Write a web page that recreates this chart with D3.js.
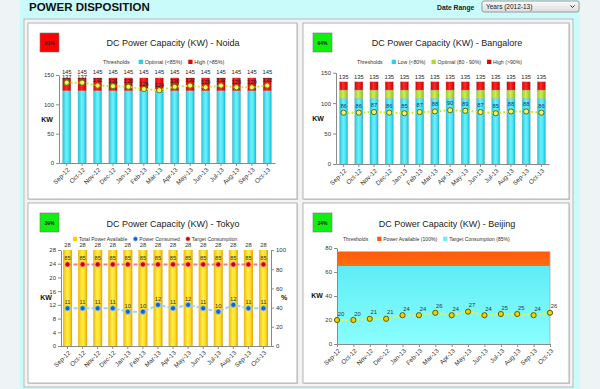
<!DOCTYPE html>
<html><head><meta charset="utf-8">
<script src="https://cdn.jsdelivr.net/npm/d3@7"></script>
<style>
body{margin:0;background:#eef3f6;}
svg{display:block;font-family:"Liberation Sans",Arial,sans-serif;}
</style></head>
<body><svg id="c" width="600" height="389"></svg>
<script>
// ---------- DATA ----------
const months = ["Sep-12","Oct-12","Nov-12","Dec-12","Jan-13","Feb-13","Mar-13","Apr-13","May-13","Jun-13","Jul-13","Aug-13","Sep-13","Oct-13"];
const badges = ["91%","64%","39%","34%"];

// Noida
const noidaOptimal = [123,123,123,123,123,123,123,123,123,123,123,123,123,123];
const noidaHigh    = [22,22,22,22,22,22,22,22,22,22,22,22,22,22];
const noidaCapacity= [145,145,145,145,145,145,145,145,145,145,145,145,145,145];
const noidaUsed    = [137,137,132,131,130,126,124,130,132,129,132,129,129,132];
const noidaTicks   = [0,50,100,150];

// Bangalore
const blrLow      = [108,108,108,108,108,108,108,108,108,108,108,108,108,108];
const blrOptimal  = [13.5,13.5,13.5,13.5,13.5,13.5,13.5,13.5,13.5,13.5,13.5,13.5,13.5,13.5];
const blrHigh     = [13.5,13.5,13.5,13.5,13.5,13.5,13.5,13.5,13.5,13.5,13.5,13.5,13.5,13.5];
const blrCapacity = [135,135,135,135,135,135,135,135,135,135,135,135,135,135];
const blrUsed     = [86,86,87,86,85,87,88,90,89,87,85,88,88,86];
const blrTicks    = [0,50,100,150];

// Tokyo
const tokyoTotal   = [28,28,28,28,28,28,28,28,28,28,28,28,28,28];
const tokyoUsed    = [11,11,11,11,10,10,12,11,12,11,10,12,11,11];
const tokyoTarget  = [85,85,85,85,85,85,85,85,85,85,85,85,85,85];
const tokyoTicksKW = [0,4,8,12,16,20,24,28];
const tokyoTicksPct= [0,20,40,60,80,100];

// Beijing
const bjAvailable = [77,77,77,77,77,77,77,77,77,77,77,77,77,77];
const bjTarget    = [65,65,65,65,65,65,65,65,65,65,65,65,65,65];
const bjUsed      = [20,20,21,21,24,24,26,24,27,24,25,25,24,26];
const bjTicks     = [0,20,40,60,80];

// ---------- SETUP ----------
const svg = d3.select("#c");
const defs = svg.append("defs");
function hGrad(id, stops){
  const g = defs.append("linearGradient").attr("id",id).attr("x1","0").attr("x2","1").attr("y1","0").attr("y2","0");
  stops.forEach(s=>g.append("stop").attr("offset",s[0]).attr("stop-color",s[1]));
}
function vGrad(id, stops){
  const g = defs.append("linearGradient").attr("id",id).attr("x1","0").attr("x2","0").attr("y1","0").attr("y2","1");
  stops.forEach(s=>g.append("stop").attr("offset",s[0]).attr("stop-color",s[1]));
}
hGrad("gCyan",[["0","#1fc6de"],["0.45","#6ff0fb"],["0.7","#4fe6f6"],["1","#17b9d4"]]);
hGrad("gRed",[["0","#d80000"],["0.45","#ff2a2a"],["1","#c80000"]]);
hGrad("gGreen",[["0","#9fd01c"],["0.45","#cdee55"],["1","#93c212"]]);
hGrad("gGold",[["0","#f2b800"],["0.45","#fff04a"],["0.75","#ffd820"],["1","#e0a000"]]);
vGrad("gBjCyan",[["0","#5eecf6"],["1","#8afeff"]]);
vGrad("gBjOrange",[["0","#ff5a08"],["1","#ff6d12"]]);
vGrad("gSel",[["0","#fbfbfb"],["1","#dcdcdc"]]);

// background
svg.append("rect").attr("x",20).attr("y",0).attr("width",560).attr("height",389).attr("fill","#c9fbfb");
svg.append("rect").attr("x",24).attr("y",19).attr("width",549).attr("height",368).attr("fill","#f3f3f3").attr("stroke","#b9b9b9");

// header
svg.append("text").attr("x",29).attr("y",11).attr("font-size","11.5px").attr("font-weight","bold").attr("fill","#111").text("POWER DISPOSITION");
svg.append("text").attr("x",437).attr("y",9.5).attr("font-size","6.8px").attr("font-weight","bold").attr("fill","#222").text("Date Range");
svg.append("rect").attr("x",482).attr("y",1).attr("width",97).attr("height",11).attr("rx",2).attr("fill","url(#gSel)").attr("stroke","#9a9a9a");
svg.append("text").attr("x",486).attr("y",9.2).attr("font-size","6.5px").attr("fill","#222").text("Years (2012-13)");
svg.append("path").attr("d","M570.5,5.5 L572.5,7.5 L574.5,5.5").attr("fill","none").attr("stroke","#333").attr("stroke-width",1);

// panels
function panel(x,y,w,h){
  svg.append("rect").attr("x",x+1).attr("y",y+1).attr("width",w).attr("height",h).attr("fill","#cfcfcf");
  svg.append("rect").attr("x",x).attr("y",y).attr("width",w).attr("height",h).attr("fill","#fff").attr("stroke","#b3b3b3");
}
panel(28,23,269,176);
panel(303,23,266,176);
panel(28,203,269,180);
panel(303,203,266,180);

function badge(x,y,txt,color){
  svg.append("rect").attr("x",x).attr("y",y).attr("width",19).attr("height",19).attr("fill",color).attr("stroke","#777").attr("stroke-width",0.6);
  svg.append("text").attr("x",x+9.5).attr("y",y+11.5).attr("text-anchor","middle").attr("font-size","5px").attr("font-weight","bold").attr("fill","#222").text(txt);
}
badge(40,33,badges[0],"#ff0000");
badge(313,33,badges[1],"#11ee11");
badge(40,213,badges[2],"#11ee11");
badge(313,213,badges[3],"#11ee11");

function title(cx,y,t){
  svg.append("text").attr("x",cx).attr("y",y).attr("text-anchor","middle").attr("font-size","9px").attr("fill","#222").text(t);
}
title(173,46,"DC Power Capacity (KW) - Noida");
title(447,46,"DC Power Capacity (KW) - Bangalore");
title(173,227,"DC Power Capacity (KW) - Tokyo");
title(447,227,"DC Power Capacity (KW) - Beijing");

// sequential legend layout
function legend(x0,y,items,fs){
  let x = x0;
  items.forEach(it=>{
    if(it.type==="sq"){
      svg.append("rect").attr("x",x).attr("y",y-4.3).attr("width",4.3).attr("height",4.3).attr("fill",it.color);
      x += 6;
    } else if(it.type==="dot"){
      svg.append("circle").attr("cx",x+2.1).attr("cy",y-2.1).attr("r",2.2).attr("fill",it.color).attr("stroke",it.stroke).attr("stroke-width",0.6);
      x += 6;
    }
    const t = svg.append("text").attr("x",x).attr("y",y).attr("font-size",fs+"px").attr("fill","#333").text(it.text);
    x += t.node().getComputedTextLength() + (it.type ? 6 : 9);
  });
}
legend(103,64,[{text:"Thresholds"},{type:"sq",color:"#22d4ec",text:"Optimal (<85%)"},{type:"sq",color:"#ee0000",text:"High (>85%)"}],5.4);
legend(357,64,[{text:"Thresholds"},{type:"sq",color:"#22d4ec",text:"Low (<80%)"},{type:"sq",color:"#aedd22",text:"Optimal (80 - 90%)"},{type:"sq",color:"#ee0000",text:"High (>90%)"}],5.2);
legend(73,241,[{type:"sq",color:"#ffd000",text:"Total Power Available"},{type:"dot",color:"#1166cc",stroke:"#88ccff",text:"Power Consumed"},{type:"dot",color:"#cc0000",stroke:"#ffaaaa",text:"Target Consumption"}],5.1);
legend(343,241,[{text:"Thresholds"},{type:"sq",color:"#ff5a08",text:"Power Available (100%)"},{type:"sq",color:"#66f0f8",text:"Target Consumption (85%)"}],5.1);

function kw(x,y,t){ svg.append("text").attr("x",x).attr("y",y).attr("text-anchor","middle").attr("font-size","7px").attr("font-weight","bold").attr("fill","#111").text(t||"KW"); }
kw(47,122); kw(318,121); kw(46,300); kw(317,298); kw(284,300,"%");

function styleAxis(g){
  g.select(".domain").attr("stroke","#8a8a8a");
  g.selectAll(".tick line").attr("stroke","#8a8a8a");
  g.selectAll("text").attr("fill","#333").style("font-size","6px").style("font-family","'Liberation Sans',Arial,sans-serif");
}
function leftAxis(scale,x,ticks){
  const g = svg.append("g").attr("transform",`translate(${x},0)`).call(d3.axisLeft(scale).tickValues(ticks).tickSize(3).tickPadding(2).tickSizeOuter(0));
  styleAxis(g); return g;
}
function rightAxis(scale,x,ticks){
  const g = svg.append("g").attr("transform",`translate(${x},0)`).call(d3.axisRight(scale).tickValues(ticks).tickSize(3).tickPadding(2).tickSizeOuter(0));
  styleAxis(g); return g;
}
function bottomAxis(scale,y){
  const g = svg.append("g").attr("transform",`translate(0,${y})`).call(d3.axisBottom(scale).tickSize(3).tickSizeOuter(0));
  styleAxis(g);
  g.selectAll("text").attr("x",0).attr("y",0).attr("dy","0.3em").attr("transform","translate(2,6) rotate(-45)").attr("text-anchor","end").style("font-size","6.3px");
  return g;
}
function valueLabels(data,xf,yf,fill,dx){
  svg.append("g").selectAll("text").data(data).join("text")
    .attr("x",(d,i)=>xf(i)+(dx||0)).attr("y",(d,i)=>yf(d,i)).attr("text-anchor","middle")
    .attr("font-size","5.8px").attr("fill",fill).text(d=>d);
}
function dottedLine(data,xf,y,color,dash,width){
  const line = d3.line().x((d,i)=>xf(i)).y(d=>y(d));
  svg.append("path").datum(data).attr("d",line).attr("fill","none").attr("stroke",color).attr("stroke-width",width||2).attr("stroke-dasharray",dash);
}
function markers(data,xf,y,fill,stroke){
  svg.append("g").selectAll("circle").data(data).join("circle")
    .attr("cx",(d,i)=>xf(i)).attr("cy",d=>y(d)).attr("r",2.6).attr("fill",fill).attr("stroke",stroke).attr("stroke-width",0.9);
}

// ---------- NOIDA ----------
{
  const x = d3.scaleBand().domain(months).range([59,275]).paddingInner(0.46).paddingOuter(0.23);
  const y = d3.scaleLinear().domain([0,150]).range([163,75]);
  const rows = months.map((m,i)=>({m, optimal:noidaOptimal[i], high:noidaHigh[i]}));
  const st = d3.stack().keys(["optimal","high"])(rows);
  const fills = {optimal:"url(#gCyan)", high:"url(#gRed)"};
  svg.append("g").selectAll("g").data(st).join("g").attr("fill",s=>fills[s.key])
    .selectAll("rect").data(s=>s).join("rect")
    .attr("x",d=>x(d.data.m)).attr("width",x.bandwidth()).attr("y",d=>y(d[1])).attr("height",d=>y(d[0])-y(d[1]))
    .attr("stroke","#9aa").attr("stroke-width",0.3);
  leftAxis(y,59,noidaTicks);
  bottomAxis(x,163);
  const cx = i=>x(months[i])+x.bandwidth()/2;
  valueLabels(noidaCapacity,cx,d=>y(d)-3.6,"#222");
  dottedLine(noidaUsed,cx,y,"#c8ee22","2,2",2);
  valueLabels(noidaUsed,cx,d=>y(d)-3.4,"#222");
  markers(noidaUsed,cx,y,"#eef566","#4d7a00");
}

// ---------- BANGALORE ----------
{
  const x = d3.scaleBand().domain(months).range([336,549]).paddingInner(0.46).paddingOuter(0.23);
  const y = d3.scaleLinear().domain([0,150]).range([164,72.7]);
  const rows = months.map((m,i)=>({m, low:blrLow[i], optimal:blrOptimal[i], high:blrHigh[i]}));
  const st = d3.stack().keys(["low","optimal","high"])(rows);
  const fills = {low:"url(#gCyan)", optimal:"url(#gGreen)", high:"url(#gRed)"};
  svg.append("g").selectAll("g").data(st).join("g").attr("fill",s=>fills[s.key])
    .selectAll("rect").data(s=>s).join("rect")
    .attr("x",d=>x(d.data.m)).attr("width",x.bandwidth()).attr("y",d=>y(d[1])).attr("height",d=>y(d[0])-y(d[1]))
    .attr("stroke","#9aa").attr("stroke-width",0.3);
  leftAxis(y,336,blrTicks);
  bottomAxis(x,164);
  const cx = i=>x(months[i])+x.bandwidth()/2;
  valueLabels(blrCapacity,cx,d=>y(d)-3,"#222");
  dottedLine(blrUsed,cx,d=>y(d)+1,"#c8ee22","2,2",2);
  valueLabels(blrUsed,cx,d=>y(d)-4,"#1a3a6a");
  markers(blrUsed,cx,d=>y(d)+1,"#eef566","#5a5a00");
}

// ---------- TOKYO ----------
{
  const x = d3.scaleBand().domain(months).range([60,271]).paddingInner(0.4).paddingOuter(0.2);
  const y = d3.scaleLinear().domain([0,28]).range([346,250]);
  const yp = d3.scaleLinear().domain([0,100]).range([346,250]);
  svg.append("g").selectAll("rect").data(tokyoTotal).join("rect")
    .attr("x",(d,i)=>x(months[i])).attr("width",x.bandwidth()).attr("y",d=>y(d)).attr("height",d=>y(0)-y(d))
    .attr("fill","url(#gGold)");
  leftAxis(y,61,tokyoTicksKW);
  rightAxis(yp,271,tokyoTicksPct);
  bottomAxis(x,346);
  const cx = i=>x(months[i])+x.bandwidth()/2;
  valueLabels(tokyoTotal,cx,d=>y(d)-3,"#333");
  dottedLine(tokyoTarget,cx,yp,"#d48a8a","4,2",2);
  valueLabels(tokyoTarget,cx,d=>yp(d)-4,"#333");
  markers(tokyoTarget,cx,yp,"#cc0000","#ff9c9c");
  dottedLine(tokyoUsed,cx,y,"#9fd2ef","4,2",2);
  valueLabels(tokyoUsed,cx,d=>y(d)-4,"#333");
  markers(tokyoUsed,cx,y,"#1166cc","#88ccff");
}

// ---------- BEIJING ----------
{
  const x = d3.scalePoint().domain(months).range([337,550]);
  const y = d3.scaleLinear().domain([0,80]).range([344,248]);
  const cx = i=>x(months[i]);
  const rows = months.map((m,i)=>({m, a:bjAvailable[i], t:bjTarget[i]}));
  svg.append("path").datum(rows).attr("fill","url(#gBjOrange)")
    .attr("d",d3.area().x(d=>x(d.m)).y0(d=>y(d.t)).y1(d=>y(d.a)));
  svg.append("path").datum(rows).attr("fill","url(#gBjCyan)")
    .attr("d",d3.area().x(d=>x(d.m)).y0(y(0)).y1(d=>y(d.t)));
  svg.append("line").attr("x1",550).attr("x2",550).attr("y1",y(bjAvailable[13])).attr("y2",y(0)).attr("stroke","#aaa").attr("stroke-width",0.8);
  leftAxis(y,337,bjTicks);
  bottomAxis(x,344);
  dottedLine(bjUsed,cx,y,"#f2f230","2,2",2);
  valueLabels(bjUsed,cx,d=>y(d)-4.5,"#333",4);
  markers(bjUsed,cx,y,"#e8d400","#5a4a00");
}
</script>
</body></html>
